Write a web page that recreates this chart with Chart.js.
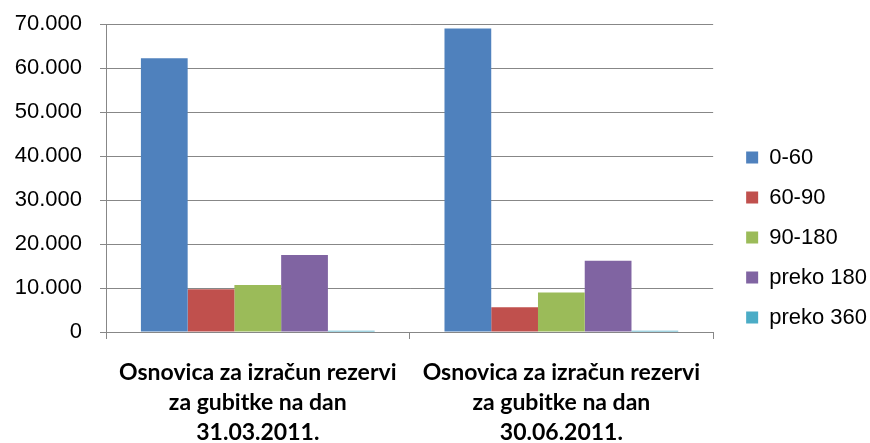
<!DOCTYPE html>
<html>
<head>
<meta charset="utf-8">
<script src="https://cdn.jsdelivr.net/npm/chart.js@4"></script>
<style>
  html, body { margin: 0; padding: 0; background: #fff; }
  #wrap { width: 870px; height: 443px; position: relative; }
</style>
</head>
<body>
<div id="wrap"><canvas id="ch"></canvas></div>
<script>
const categories = [
  ['Osnovica za izračun rezervi', 'za gubitke na dan', '31.03.2011.'],
  ['Osnovica za izračun rezervi', 'za gubitke na dan', '30.06.2011.']
];
const seriesNames = ['0-60', '60-90', '90-180', 'preko 180', 'preko 360'];
const s0_60 = [62200, 69000];
const s60_90 = [9700, 5600];
const s90_180 = [10700, 9000];
const sPreko180 = [17500, 16200];
const sPreko360 = [300, 300];
const colors = ['#4F81BD', '#C0504D', '#9BBB59', '#8064A2', '#4BACC6'];
const yMax = 70000, yStep = 10000;

const fmt = v => String(v).replace(/\B(?=(\d{3})+(?!\d))/g, '.');
const grey = '#878787';

// nudge the legend into place beside the plot
const legendShift = {
  id: 'legendShift',
  afterLayout(chart) {
    const lg = chart.legend;
    lg.left += 15; lg.right += 15;
    lg.top += 4; lg.bottom += 4;
  }
};

new Chart(document.getElementById('ch').getContext('2d'), {
  type: 'bar',
  data: {
    labels: categories,
    datasets: [s0_60, s60_90, s90_180, sPreko180, sPreko360].map((d, i) => ({
      label: seriesNames[i], data: d, backgroundColor: colors[i],
      borderWidth: 0, barPercentage: 1, categoryPercentage: 0.77
    }))
  },
  plugins: [legendShift],
  options: {
    responsive: true, maintainAspectRatio: false, animation: false,
    layout: { padding: { top: 24, left: 12, right: 8, bottom: 0 } },
    plugins: {
      tooltip: { enabled: false },
      legend: {
        position: 'right', align: 'center',
        labels: { boxWidth: 12, boxHeight: 12, padding: 18, color: '#000',
                  font: { family: 'Liberation Sans', size: 22 } }
      }
    },
    scales: {
      x: {
        offset: true,
        afterFit: s => { s.height = 111; },
        grid: { offset: true, drawOnChartArea: false, color: grey, tickLength: 7 },
        border: { color: grey, width: 1 },
        ticks: { color: '#000', padding: 19, maxRotation: 0, autoSkip: false,
                 font: { family: 'Lato', size: 23, weight: 'bold', lineHeight: 1.3 } }
      },
      y: {
        min: 0, max: yMax,
        afterFit: s => { s.width = 94; s.paddingTop = 0; s.paddingBottom = 0; },
        grid: { color: grey, lineWidth: 1, tickLength: 6 },
        border: { color: grey, width: 1 },
        ticks: { stepSize: yStep, color: '#000', padding: 18, callback: v => fmt(v),
                 font: { family: 'Liberation Sans', size: 22 } }
      }
    }
  }
});
</script>
</body>
</html>
